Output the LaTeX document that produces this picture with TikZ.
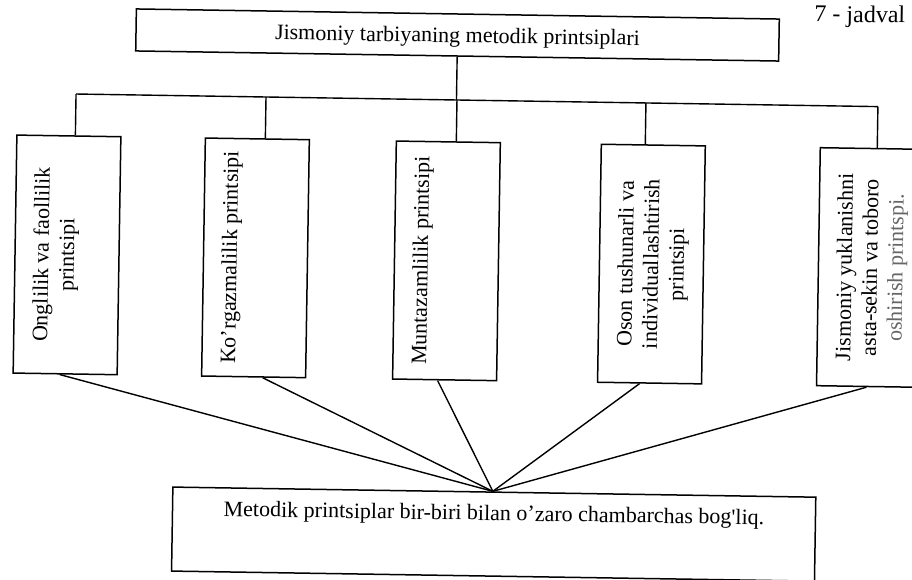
\documentclass[tikz,border=0pt]{standalone}
\usepackage{fontspec}
\setmainfont{Liberation Serif}
\newfontfamily\plainq{Liberation Serif}
\usetikzlibrary{calc}
\newcommand{\vtext}[1]{\parbox[c][104pt][t]{238pt}{\vspace*{18pt}\centering #1}}
\begin{document}
\begin{tikzpicture}[x=1pt,y=-1pt,
  every node/.style={font=\fontsize{22}{25.5}\selectfont},
  boxline/.style={draw, line width=1.5pt},
  conn/.style={line width=1.4pt},
  tallbox/.style={boxline, rotate=90, inner sep=0pt},
]
\useasboundingbox (0,0) rectangle (912,579);
\begin{scope}[rotate around={-0.9:(456,290)}, transform shape]
\node[boxline, minimum width=643pt, minimum height=42pt, inner sep=0pt,
      text height=15pt, text depth=0pt] (title) at (453.5,35)
      {Jismoniy tarbiyaning metodik printsiplari};
\node[anchor=base west, inner sep=0pt, font=\fontsize{24}{28}\selectfont] (tab) at (810,16) {7 - jadval};

\node[tallbox] (b1) at (66.5,261) {\vtext{Onglilik va faollilik\\printsipi}};
\node[tallbox] (b2) at (255,261) {\vtext{Ko’rgazmalilik printsipi}};
\node[tallbox] (b3) at (446,261) {\vtext{Muntazamlilik printsipi}};
\node[tallbox] (b4) at (651,261) {\vtext{Oson tushunarli va\\individuallashtirish\\printsipi}};
\node[tallbox] (b5) at (870,261) {\vtext{Jismoniy yuklanishni\\asta-sekin va toboro\\{\color{black!60}oshirish printspi.}}};

\node[boxline, inner sep=0pt] (bot) at (497.5,533.5)
  {\parbox[c][84pt][t]{643pt}{\vspace*{13pt}\centering Metodik printsiplar bir-biri bilan o’zaro chambarchas bog{\plainq '}liq.}};

\coordinate (busL) at (73,100);
\coordinate (busR) at (875,100);
\coordinate (d1) at (73,100);
\coordinate (d2) at (263,100);
\coordinate (d3) at (454,100);
\coordinate (d4) at (643,100);
\coordinate (d5) at (875,100);
\coordinate (conv) at ($(bot.north)+(-1.5,0)$);

\draw[conn] (title.south) -- (title.south |- busL);
\draw[conn] (busL) -- (busR);
\draw[conn] (d1) -- (d1 |- b1.east);
\draw[conn] (d2) -- (d2 |- b2.east);
\draw[conn] (d3) -- (d3 |- b3.east);
\draw[conn] (d4) -- (d4 |- b4.east);
\draw[conn] (d5) -- (d5 |- b5.east);

\draw[conn] ($(b1.west)+(-5.5,0)$) -- (conv);
\draw[conn] ($(b2.west)+(9,0)$) -- (conv);
\draw[conn] ($(b3.west)+(-7,0)$) -- (conv);
\draw[conn] ($(b4.west)+(-10,0)$) -- (conv);
\draw[conn] ($(b5.west)+(-2,0)$) -- (conv);
\end{scope}
\end{tikzpicture}
\end{document}
